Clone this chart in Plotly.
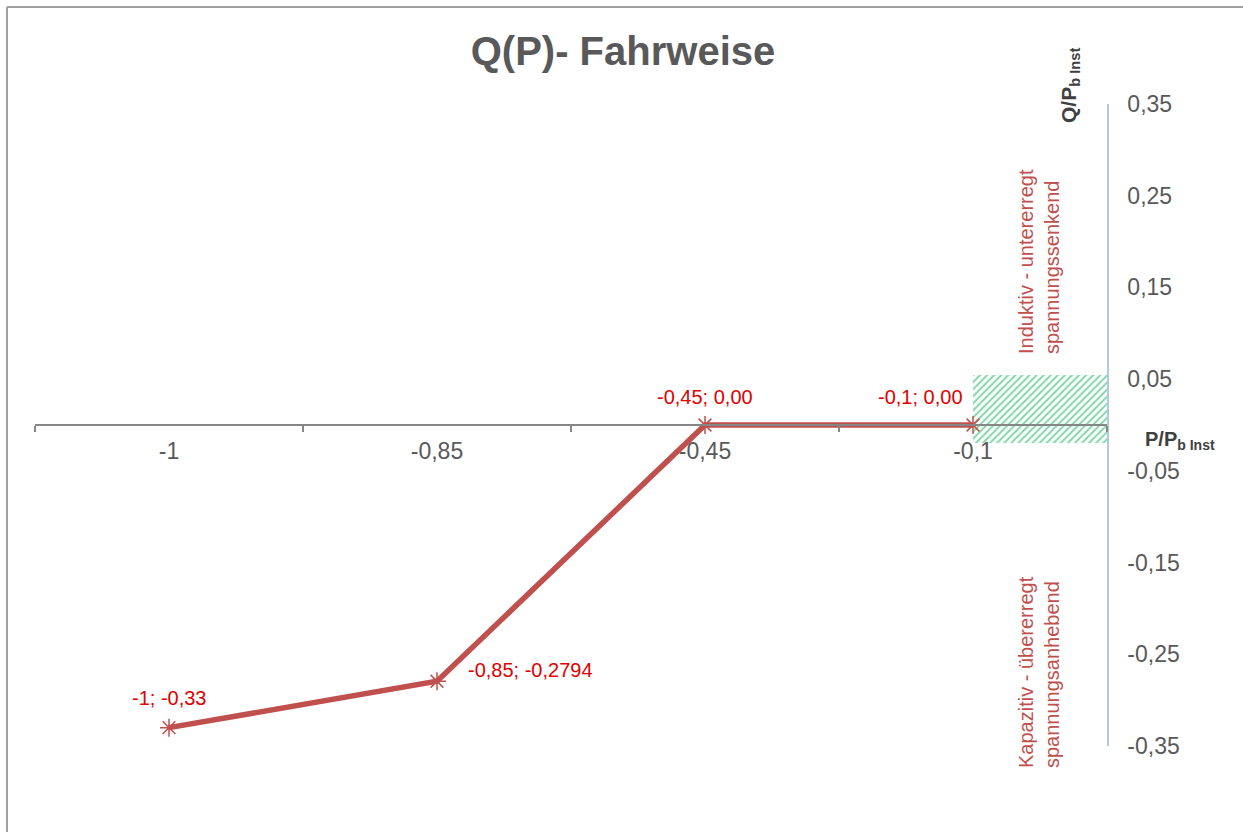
import plotly.graph_objects as go

# ---- data ----
categories = ["-1", "-0,85", "-0,45", "-0,1"]
q_values = [-0.33, -0.2794, 0.0, 0.0]
point_labels = ["-1; -0,33", "-0,85; -0,2794", "-0,45; 0,00", "-0,1; 0,00"]
label_shift_x = [0, 93, 0, -53]
label_shift_y = [30, 11, 28, 28]

zone_category = ["-0,1"]
zone_bottom = [-0.02]
zone_top = [0.055]

y_tickvals = [0.35, 0.25, 0.15, 0.05, -0.05, -0.15, -0.25, -0.35]
y_ticktext = ["0,35", "0,25", "0,15", "0,05", "-0,05", "-0,15", "-0,25", "-0,35"]

y_min, y_max = -0.35, 0.35

FONT = "Liberation Sans, Arial, sans-serif"
GRAY = "#595959"
RED = "#C0504D"

# plot-area pixel geometry
L, R, T, B = 35, 1107, 104, 746
W, H = 1243, 832


def px_x(x):
    return (x - L) / (R - L)


def px_y(y):
    return (B - y) / (B - T)


fig = go.Figure()

# hatched green zone
fig.add_trace(go.Bar(
    x=zone_category,
    y=[t - b for t, b in zip(zone_top, zone_bottom)],
    base=zone_bottom,
    width=0.5,
    offset=0,
    marker=dict(color="white", line=dict(width=0),
                pattern=dict(shape="/", fgcolor="#00B050", bgcolor="white",
                             size=5, solidity=0.4)),
    hoverinfo="skip",
    showlegend=False,
))

# main Q(P) line
fig.add_trace(go.Scatter(
    x=categories,
    y=q_values,
    mode="lines+markers",
    line=dict(color=RED, width=5.5),
    marker=dict(symbol="asterisk-open", size=15,
                line=dict(color=RED, width=1.5), color=RED),
    showlegend=False,
))

# data labels (category axis: position by category index)
for i, (cy, txt, sx, sy) in enumerate(zip(q_values, point_labels,
                                          label_shift_x, label_shift_y)):
    fig.add_annotation(x=i, y=cy, text=txt, showarrow=False,
                       xshift=sx, yshift=sy,
                       xanchor="center", yanchor="middle",
                       font=dict(family=FONT, size=20, color="#E00000"))

# region labels
fig.add_annotation(xref="paper", yref="paper", x=px_x(1039), y=px_y(262),
                   text="Induktiv - untererregt<br>spannungssenkend",
                   textangle=-90, showarrow=False, align="left",
                   xanchor="center", yanchor="middle",
                   font=dict(family=FONT, size=20, color=RED))
fig.add_annotation(xref="paper", yref="paper", x=px_x(1039), y=px_y(672),
                   text="Kapazitiv - übererregt<br>spannungsanhebend",
                   textangle=-90, showarrow=False, align="left",
                   xanchor="center", yanchor="middle",
                   font=dict(family=FONT, size=20, color=RED))

# axis titles
fig.add_annotation(xref="paper", yref="paper", x=px_x(1070), y=px_y(86),
                   text="<b>Q/P</b><sub><b>b Inst</b></sub>",
                   textangle=-90, showarrow=False,
                   xanchor="center", yanchor="middle",
                   font=dict(family=FONT, size=21, color="#404040"))
fig.add_annotation(xref="paper", yref="paper", x=px_x(1180), y=px_y(440),
                   text="<b>P/P</b><sub><b>b Inst</b></sub>",
                   showarrow=False,
                   xanchor="center", yanchor="middle",
                   font=dict(family=FONT, size=20, color="#404040"))

# chart border (top and left)
fig.add_shape(type="line", xref="paper", yref="paper",
              x0=px_x(7), y0=px_y(7), x1=px_x(W + 5), y1=px_y(7),
              line=dict(color="#A0A0A0", width=2))
fig.add_shape(type="line", xref="paper", yref="paper",
              x0=px_x(7), y0=px_y(7), x1=px_x(7), y1=px_y(H + 5),
              line=dict(color="#A0A0A0", width=2))

fig.update_layout(
    width=W, height=H,
    margin=dict(l=L, r=W - R, t=T, b=H - B, pad=0),
    paper_bgcolor="white", plot_bgcolor="white",
    title=dict(text="<b>Q(P)- Fahrweise</b>", x=623 / W, xanchor="center",
               y=1 - 51 / H, yanchor="middle",
               font=dict(family=FONT, size=40, color=GRAY)),
    font=dict(family=FONT, color=GRAY),
    showlegend=False,
    bargap=0,
    xaxis=dict(
        type="category",
        categoryorder="array", categoryarray=categories,
        range=[-0.5, 3.5],
        tickson="boundaries",
        ticks="outside", ticklen=6, tickcolor="#868686", tickwidth=1.5,
        showline=True, linecolor="#868686", linewidth=1.5,
        showgrid=False, zeroline=False,
        anchor="free",
        position=(0 - y_min) / (y_max - y_min),
        ticklabelstandoff=6,
        tickfont=dict(family=FONT, size=23, color=GRAY),
    ),
    yaxis=dict(
        range=[y_min, y_max],
        side="right",
        tickvals=y_tickvals, ticktext=y_ticktext,
        ticks="", showgrid=False, zeroline=False,
        showline=True, linecolor="#B4C7E7", linewidth=1.5,
        ticklabelstandoff=14,
        tickfont=dict(family=FONT, size=23, color=GRAY),
    ),
)

fig.write_html("out.html",
               config={"displayModeBar": False},
               post_script="document.body.style.margin='0';document.body.style.overflow='hidden';")
